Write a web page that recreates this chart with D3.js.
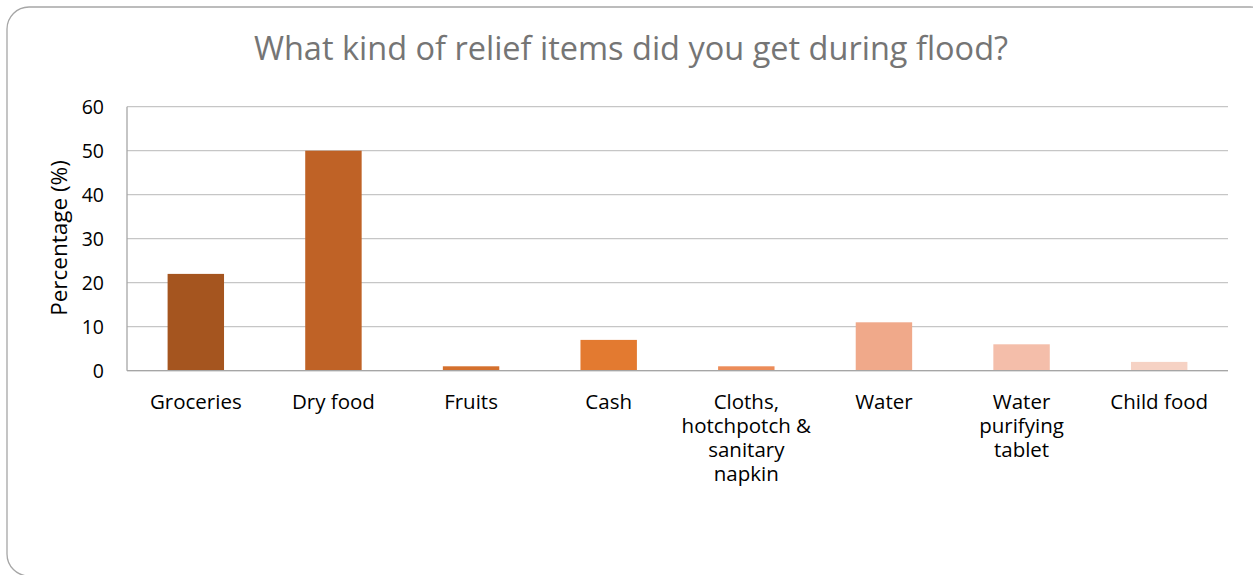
<!DOCTYPE html>
<html><head><meta charset="utf-8">
<script src="https://cdn.jsdelivr.net/npm/d3@7"></script>
<style>body{margin:0;background:#fff}svg{display:block}</style>
</head><body>
<svg id="c" width="1253" height="575"></svg>
<script>
const categories = ["Groceries","Dry food","Fruits","Cash","Cloths, hotchpotch & sanitary napkin","Water","Water purifying tablet","Child food"];
const labelLines = [["Groceries"],["Dry food"],["Fruits"],["Cash"],["Cloths,","hotchpotch &","sanitary","napkin"],["Water"],["Water","purifying","tablet"],["Child food"]];
const values = [22,50,1,7,1,11,6,2];
const colors = ["#A5551F","#BF6226","#D4702D","#E37A30","#EC8C59","#F0A98A","#F4BEAA","#F6D2C4"];
const yTicks = [0,10,20,30,40,50,60];
const title = "What kind of relief items did you get during flood?";
const yTitle = "Percentage (%)";

const svg = d3.select("#c");
const font = "'Open Sans', sans-serif";
svg.append("rect").attr("x",7).attr("y",7).attr("width",1265).attr("height",569)
  .attr("rx",22).attr("ry",22).attr("fill","#fff").attr("stroke","#a6a6a6").attr("stroke-width",1.3);

const L=127, R=1228, T=106.7, B=370.7;
const x = d3.scaleBand().domain(categories).range([L,R]).paddingInner(0.59).paddingOuter(0.295);
const y = d3.scaleLinear().domain([0,60]).range([B,T]);

svg.append("g").selectAll("line").data(yTicks).join("line")
  .attr("x1",L).attr("x2",R).attr("y1",d=>y(d)).attr("y2",d=>y(d))
  .attr("stroke","#c6c6c6").attr("stroke-width",1.2);

svg.append("g").selectAll("rect").data(values).join("rect")
  .attr("x",(d,i)=>x(categories[i])).attr("width",x.bandwidth())
  .attr("y",d=>y(d)).attr("height",d=>B-y(d)).attr("fill",(d,i)=>colors[i]);

svg.append("line").attr("x1",L).attr("x2",R).attr("y1",B).attr("y2",B).attr("stroke","#a6a6a6").attr("stroke-width",1.3);
svg.append("line").attr("x1",L).attr("x2",L).attr("y1",T).attr("y2",B).attr("stroke","#a6a6a6").attr("stroke-width",1.3);

svg.append("g").selectAll("text").data(yTicks).join("text")
  .attr("x",L-23).attr("y",d=>y(d)).attr("dy","0.36em").attr("text-anchor","end")
  .attr("font-family",font).attr("font-size",19.5).attr("fill","#000").text(d=>d);

const xl = svg.append("g");
categories.forEach((c,i)=>{
  const t = xl.append("text").attr("text-anchor","middle").attr("font-family",font).attr("font-size",20.5).attr("fill","#000");
  labelLines[i].forEach((ln,j)=>{
    t.append("tspan").attr("x",x(c)+x.bandwidth()/2).attr("y",409+j*24).text(ln);
  });
});

svg.append("text").attr("x",631).attr("y",60).attr("text-anchor","middle")
  .attr("font-family",font).attr("font-size",32.5).attr("fill","#757575").text(title);

svg.append("text").attr("transform","translate(67,238) rotate(-90)").attr("text-anchor","middle")
  .attr("font-family",font).attr("font-size",22.5).attr("fill","#000").text(yTitle);
</script>
</body></html>
